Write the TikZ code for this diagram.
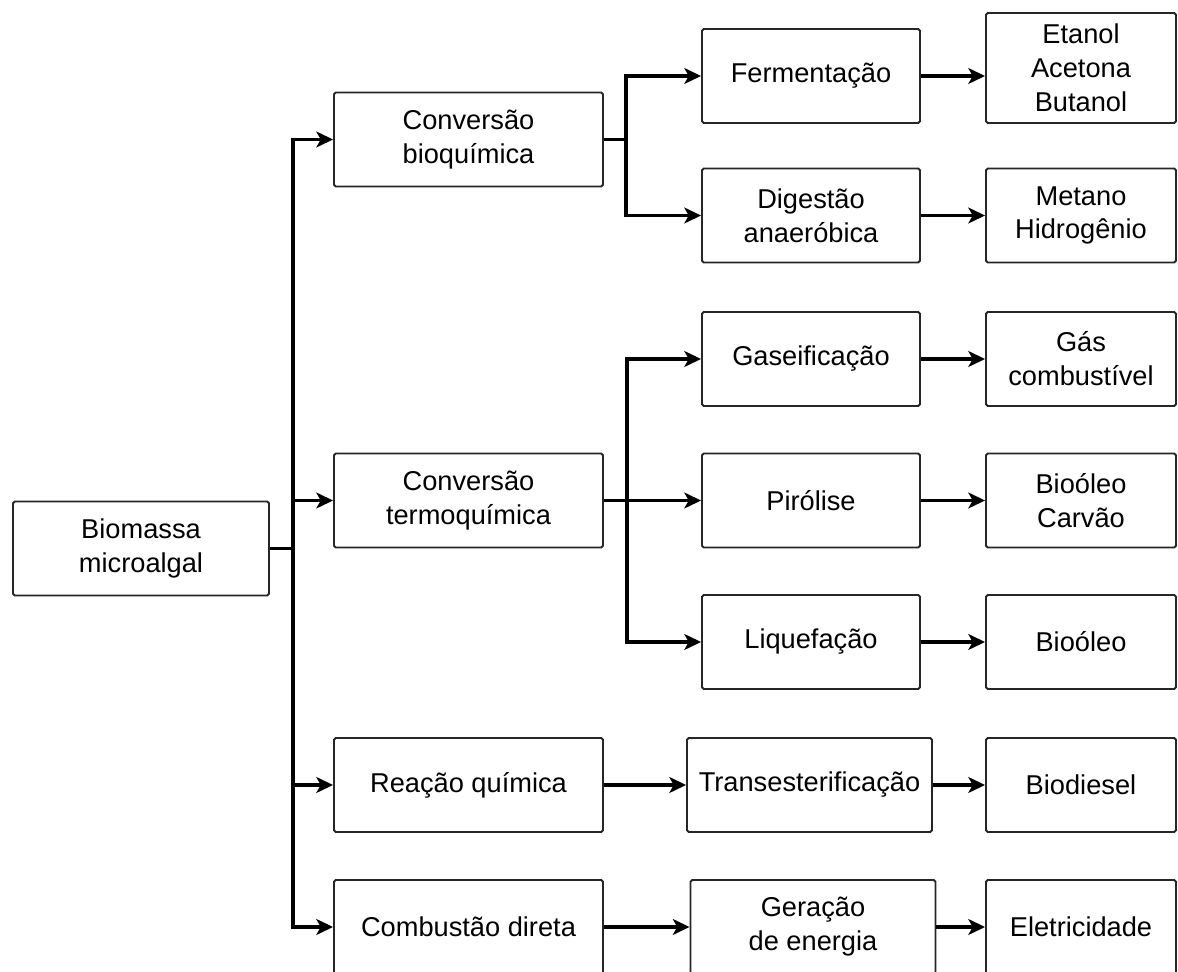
\documentclass[tikz,border=0pt]{standalone}
\usepackage{fontspec}
\setmainfont{Liberation Sans}
\usetikzlibrary{arrows.meta}

\tikzset{
  box/.style={draw=black!85, line width=1.1pt, rounded corners=1pt, align=center,
    inner sep=0pt, minimum height=1.88cm, font=\fontsize{15.5}{19.3}\selectfont},
  boxA/.style={box, minimum width=5.12cm},
  boxB/.style={box, minimum width=5.38cm},
  boxC/.style={box, minimum width=4.36cm},
  boxD/.style={box, minimum width=4.9cm},
  boxE/.style={box, minimum width=3.8cm},
  link/.style={line width=2pt},
  arr/.style={link, -{Stealth[length=9.5pt,width=9pt,inset=2.5pt]}},
}

\begin{document}
\begin{tikzpicture}[x=0.02cm, y=-0.02cm]
  \useasboundingbox (0,0) rectangle (1178,972);
  \clip (0,0) rectangle (1178,972);
  % source
  \node[boxA] (bio) at (141,548.5) {Biomassa\\microalgal};
  % conversion routes
  \node[boxB] (bioq) at (468.5,139.5) {Conversão\\bioquímica};
  \node[boxB] (termo) at (468.5,500.5) {Conversão\\termoquímica};
  \node[boxB] (reac) at (468.5,785) {Reação química};
  \node[boxB] (comb) at (468.5,927) {Combustão direta};
  % processes
  \node[boxC] (ferm) at (811,76) {Fermentação};
  \node[boxC] (dig) at (811,215.5) {Digestão\\anaeróbica};
  \node[boxC] (gas) at (811,359) {Gaseificação};
  \node[boxC] (pir) at (811,500.5) {Pirólise};
  \node[boxC] (liq) at (811,642) {Liquefação};
  \node[boxD] (trans) at (809.5,785) {Transesterificação};
  \node[boxD] (ger) at (813,927) {Geração\\de energia};
  % products
  \node[boxE, minimum height=2.2cm] (etan) at (1081,68) {Etanol\\Acetona\\Butanol};
  \node[boxE] (metan) at (1081,215.5) {Metano\\Hidrogênio};
  \node[boxE] (gcomb) at (1081,359) {Gás\\combustível};
  \node[boxE] (oleoc) at (1081,500.5) {Bioóleo\\Carvão};
  \node[boxE] (oleo) at (1081,642) {Bioóleo};
  \node[boxE] (diesel) at (1081,785) {Biodiesel};
  \node[boxE] (elet) at (1081,927) {Eletricidade};

  % branch points
  \coordinate (trunk) at (293,548.5);
  \coordinate (bsplit) at (626,139.5);
  \coordinate (tsplit) at (627,500.5);

  \draw[link] (bio.east) -- (trunk);
  \draw[arr] (trunk) |- (bioq.west);
  \draw[arr] (trunk) |- (termo.west);
  \draw[arr] (trunk) |- (reac.west);
  \draw[arr] (trunk) |- (comb.west);

  \draw[link] (bioq.east) -- (bsplit);
  \draw[arr] (bsplit) |- (ferm.west);
  \draw[arr] (bsplit) |- (dig.west);

  \draw[arr] (termo.east) -- (pir.west);
  \draw[arr] (tsplit) |- (gas.west);
  \draw[arr] (tsplit) |- (liq.west);

  \draw[arr] (reac.east) -- (trans.west);
  \draw[arr] (comb.east) -- (ger.west);

  \draw[arr] (ferm.east) -- (etan.west |- ferm.east);
  \draw[arr] (dig.east) -- (metan.west);
  \draw[arr] (gas.east) -- (gcomb.west);
  \draw[arr] (pir.east) -- (oleoc.west);
  \draw[arr] (liq.east) -- (oleo.west);
  \draw[arr] (trans.east) -- (diesel.west);
  \draw[arr] (ger.east) -- (elet.west);
\end{tikzpicture}
\end{document}
